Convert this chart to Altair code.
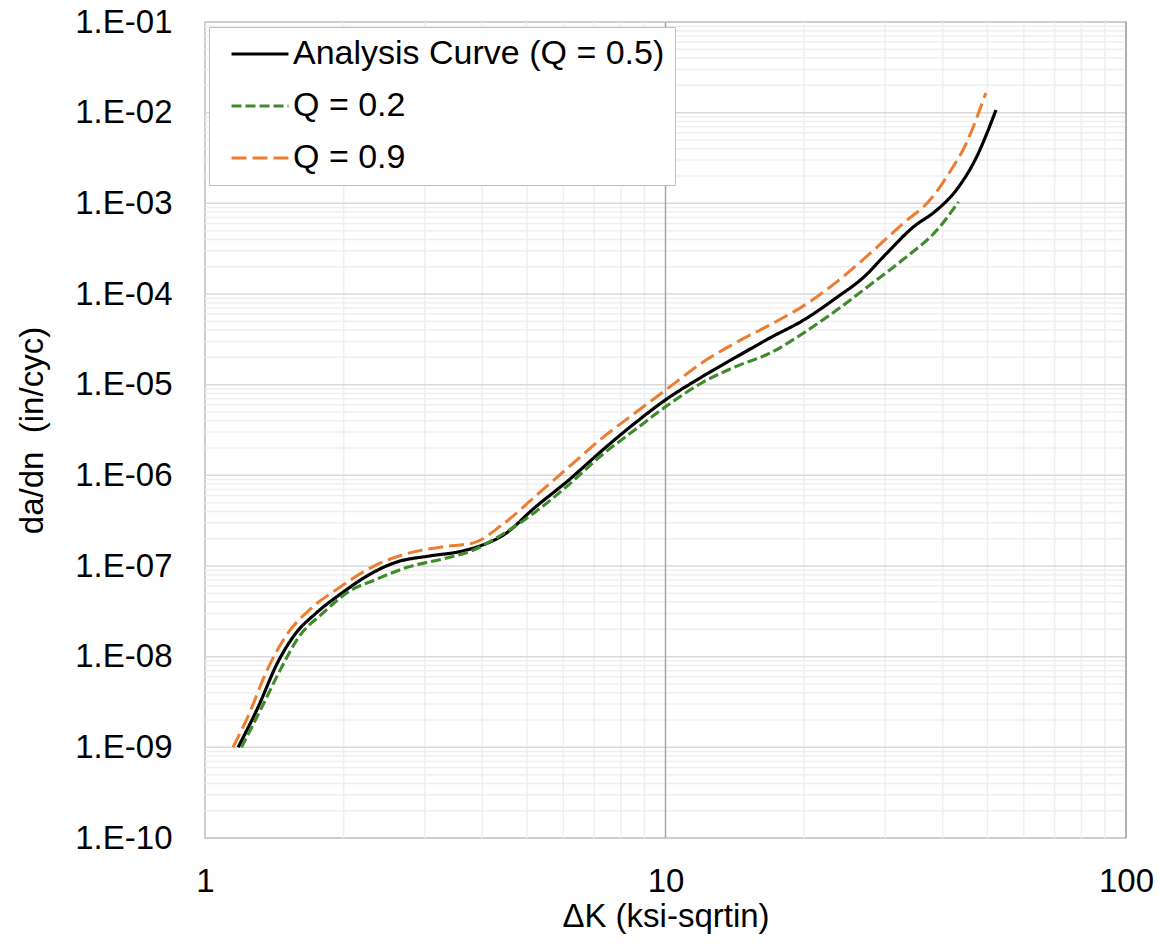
import altair as alt
import pandas as pd

# ---- data ----
series_names = ["Analysis Curve (Q = 0.5)", "Q = 0.2", "Q = 0.9"]

x_q05 = [1.18, 1.305, 1.436, 1.573, 1.74, 2.0, 2.27, 2.6, 3.07, 3.57, 4.0, 4.45, 5.2, 6.17,
         7.3, 8.6, 10.0, 12.0, 14.2, 16.9, 20.0, 23.5, 27.0, 30.2, 34.4, 38.9, 42.8, 47.3, 52.2]
y_q05 = [1e-9, 2.8e-9, 8.5e-9, 1.8e-8, 3.0e-8, 5.2e-8, 8e-8, 1.1e-7, 1.29e-7, 1.44e-7, 1.7e-7,
         2.2e-7, 4.4e-7, 8.9e-7, 1.9e-6, 3.8e-6, 6.8e-6, 1.22e-5, 2.0e-5, 3.3e-5, 5.2e-5, 9.1e-5,
         1.55e-4, 2.8e-4, 5.4e-4, 8.5e-4, 1.4e-3, 3.2e-3, 1.07e-2]

x_q02 = [1.20, 1.33, 1.458, 1.60, 1.80, 2.05, 2.35, 2.77, 3.29, 3.83, 4.4, 5.2, 6.17, 7.3, 8.6,
         10.0, 12.0, 14.2, 16.9, 20.0, 23.5, 27.8, 32.8, 38.9, 43.3]
y_q02 = [1e-9, 2.8e-9, 7.2e-9, 1.66e-8, 3.0e-8, 5.2e-8, 7.1e-8, 9.8e-8, 1.2e-7, 1.5e-7, 2.2e-7,
         3.9e-7, 7.9e-7, 1.7e-6, 3.2e-6, 5.7e-6, 1.05e-5, 1.58e-5, 2.24e-5, 3.75e-5, 6.6e-5,
         1.26e-4, 2.4e-4, 5.1e-4, 1.04e-3]

x_q09 = [1.15, 1.24, 1.366, 1.495, 1.71, 1.95, 2.31, 2.69, 3.29, 3.83, 4.4, 5.2, 6.17, 7.3, 8.6,
         10.0, 12.0, 14.2, 16.9, 20.5, 23.5, 27.8, 32.8, 37.6, 41.4, 45.0, 49.6]
y_q09 = [1e-9, 2.2e-9, 7.2e-9, 1.66e-8, 3.5e-8, 5.7e-8, 9.8e-8, 1.33e-7, 1.63e-7, 1.8e-7, 2.8e-7,
         5.8e-7, 1.24e-6, 2.6e-6, 4.9e-6, 8.7e-6, 1.74e-5, 2.9e-5, 4.6e-5, 8.1e-5, 1.35e-4,
         2.8e-4, 6.0e-4, 1.1e-3, 2.2e-3, 4.6e-3, 1.65e-2]

x_major = [1, 10, 100]
y_major = [1e-10, 1e-9, 1e-8, 1e-7, 1e-6, 1e-5, 1e-4, 1e-3, 1e-2, 1e-1]
minor_mult = [2, 3, 4, 5, 6, 7, 8, 9]

# ---- tables ----
rows = []
for name, xs, ys in [(series_names[0], x_q05, y_q05),
                     (series_names[1], x_q02, y_q02),
                     (series_names[2], x_q09, y_q09)]:
    for xv, yv in zip(xs, ys):
        rows.append({"series": name, "dK": xv, "dadn": yv})
df = pd.DataFrame(rows)

x_minor = [m * d for d in x_major[:-1] for m in minor_mult]
y_minor = [m * d for d in y_major[:-1] for m in minor_mult]
df_xminor = pd.DataFrame({"dK": x_minor})
df_yminor = pd.DataFrame({"dadn": y_minor})
df_ymajor = pd.DataFrame({"dadn": y_major[1:-1]})
df_xdark = pd.DataFrame({"dK": [10, 100]})

FONT = "Liberation Sans"
W, H = 921, 816
X_TITLE = "ΔK (ksi-sqrtin)"
Y_TITLE = "da/dn\u00a0 (in/cyc)"

xscale = alt.Scale(type="log", domain=[1, 100], nice=False)
yscale = alt.Scale(type="log", domain=[1e-10, 1e-1], nice=False)

xaxis = alt.Axis(values=x_major, title=X_TITLE, grid=False, domain=False,
                 ticks=False, labelFlush=False, labelPadding=27,
                 labelExpr="format(datum.value, 'd')",
                 labelFont=FONT, labelFontSize=33, labelColor="#000000",
                 titleFont=FONT, titleFontSize=33, titleFontWeight="normal",
                 titleColor="#000000", titleY=88, titleBaseline="alphabetic")
yaxis = alt.Axis(values=y_major, title=Y_TITLE, grid=False, domain=False,
                 ticks=False, labelPadding=33,
                 labelExpr="'1.E-' + (round(-log(datum.value)/LN10) < 10 ? '0' : '') + round(-log(datum.value)/LN10)",
                 labelFont=FONT, labelFontSize=33, labelColor="#000000",
                 titleFont=FONT, titleFontSize=33, titleFontWeight="normal",
                 titleColor="#000000", titleX=-163, titleBaseline="alphabetic")

X = alt.X("dK:Q", scale=xscale, axis=xaxis, title=X_TITLE)
Y = alt.Y("dadn:Q", scale=yscale, axis=yaxis, title=Y_TITLE)

vminor = alt.Chart(df_xminor).mark_rule(color="#efefef", strokeWidth=1.5).encode(x=X)
hminor = alt.Chart(df_yminor).mark_rule(color="#efefef", strokeWidth=1.5).encode(y=Y)
hmajor = alt.Chart(df_ymajor).mark_rule(color="#d9d9d9", strokeWidth=1.5).encode(y=Y)
vdark = alt.Chart(df_xdark).mark_rule(color="#a6a6a6", strokeWidth=1.5).encode(x=X)

leg = dict(orient="none", legendX=4, legendY=5, title=None)

lines = alt.Chart(df).mark_line(interpolate="monotone").encode(
    x=X,
    y=Y,
    color=alt.Color("series:N",
                    scale=alt.Scale(domain=series_names, range=["#000000", "#3f8a2c", "#ed7d31"]),
                    legend=alt.Legend(symbolType="M-2,0H2", symbolSize=810,
                                      labelFont=FONT, labelFontSize=34, labelColor="#000000",
                                      labelOffset=16, labelLimit=0, padding=10, symbolOffset=24,
                                      rowPadding=18, strokeColor="#bfbfbf", fillColor="white",
                                      **leg)),
    strokeDash=alt.StrokeDash("series:N",
                              scale=alt.Scale(domain=series_names, range=[[1, 0], [10, 4], [15, 6]]),
                              legend=alt.Legend(**leg)),
    strokeWidth=alt.StrokeWidth("series:N",
                                scale=alt.Scale(domain=series_names, range=[3.2, 3, 4]),
                                legend=alt.Legend(**leg)),
    order=alt.Order("dK:Q"),
)

chart = alt.layer(vminor, hminor, hmajor, vdark, lines).properties(
    width=W, height=H,
    autosize=alt.AutoSizeParams(type="none"),
    padding={"left": 205, "top": 22, "right": 32, "bottom": 106},
    background="white",
).configure_view(stroke="#bfbfbf", strokeWidth=1.5)

chart.save("out.html", embed_options={"renderer": "svg", "actions": False})
